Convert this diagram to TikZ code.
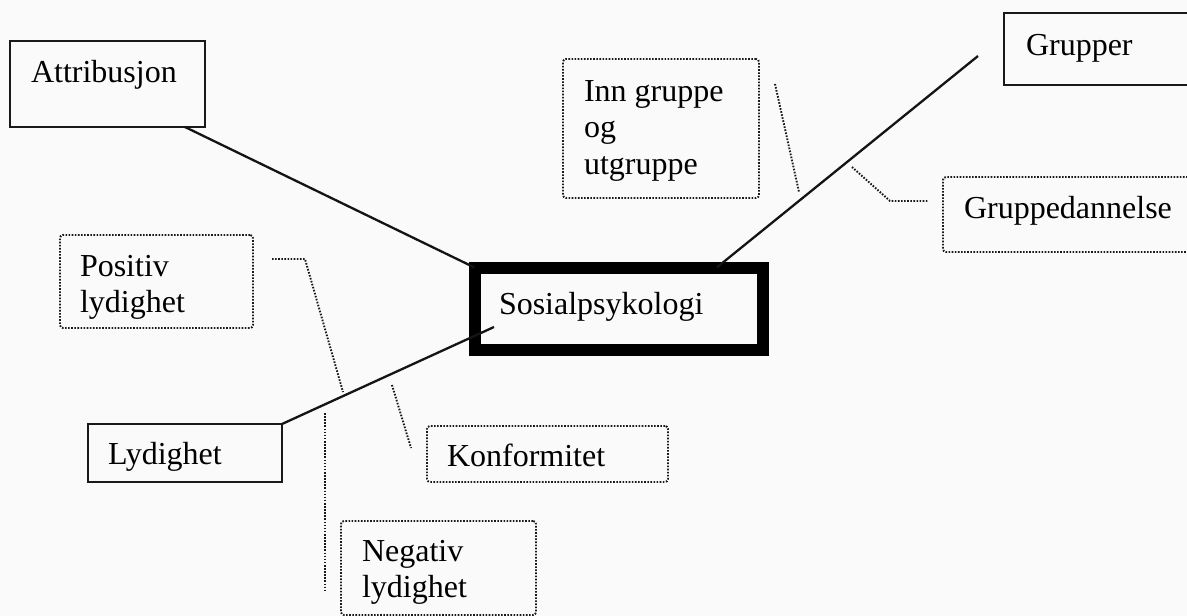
\documentclass[tikz,border=0pt]{standalone}
\usepackage{fontspec}
\setmainfont{Liberation Serif}
\begin{document}
\begin{tikzpicture}[x=1pt,y=-1pt,
  every node/.style={outer sep=0pt},
  solidbox/.style={draw=black!90, line width=2.2pt, inner sep=0pt, anchor=north west},
  centerbox/.style={draw=black, line width=12pt, inner sep=0pt, anchor=north west},
  dotbox/.style={draw=black!90, line width=1.9pt, dash pattern=on 1.6pt off 1.5pt,
                 rounded corners=3pt, inner sep=0pt, anchor=north west},
  txt/.style={anchor=north west, inner sep=0pt, align=left,
              font=\fontsize{32}{36.5}\selectfont, text=black},
  link/.style={draw=black!92, line width=2.3pt},
  dotlink/.style={draw=black!90, line width=1.9pt, dash pattern=on 1.6pt off 1.5pt}]

% page background
\fill[black!2] (0,0) rectangle (1187,616);
\useasboundingbox (0,0) rectangle (1187,616);

% boxes
\node[solidbox, minimum width=195pt, minimum height=86pt]  (attr)   at (10,41)    {};
\node[solidbox, minimum width=195pt, minimum height=72pt]  (grupper) at (1004,13) {};
\node[centerbox, minimum width=288.5pt, minimum height=82pt] (center) at (474.5,267.5) {};
\node[solidbox, minimum width=194pt, minimum height=58pt]  (lyd)    at (88,424)   {};
\node[dotbox, minimum width=196pt, minimum height=139pt]   (inn)    at (563,59)   {};
\node[dotbox, minimum width=260pt, minimum height=75pt]    (gd)     at (943,177)  {};
\node[dotbox, minimum width=193pt, minimum height=93pt]    (pos)    at (60,235)   {};
\node[dotbox, minimum width=241pt, minimum height=56pt]    (konf)   at (427,426)  {};
\node[dotbox, minimum width=195pt, minimum height=94pt]    (neg)    at (341,521)  {};

% labels (top = baseline - strut height)
\node[txt] (attrtext)    at (31,56.45)    {\strut Attribusjon};
\node[txt] (gruppertext) at (1026,29.45)  {\strut Grupper};
\node[txt] (centertext)  at (499,288.45)  {\strut Sosialpsykologi};
\node[txt] (lydtext)     at (108,438.45)  {\strut Lydighet};
\node[txt] (inntext)     at (584,75.45)   {\strut Inn gruppe\\og\\utgruppe};
\node[txt] (gdtext)      at (964,192.45)  {\strut Gruppedannelse};
\node[txt] (postext)     at (80,250.45)   {\strut Positiv\\lydighet};
\node[txt] (konftext)    at (447,440.45)  {\strut Konformitet};
\node[txt] (negtext)     at (362,535.45)  {\strut Negativ\\lydighet};

% solid connectors to the central topic
\draw[link] ([xshift=175pt]attr.south west) -- (center.north west);
\draw[link] ([xshift=98pt]center.north) -- ([xshift=-26pt,yshift=-7pt]grupper.west);
\draw[link] (lyd.north east) -- ([xshift=19.5pt,yshift=22.5pt]center.south west);

% dotted leader lines
\draw[dotlink] ([xshift=16pt,yshift=-25pt]inn.north east) -- ([xshift=40pt,yshift=6pt]inn.south east);
\draw[dotlink] ([xshift=-91pt,yshift=47.5pt]gd.west) -- ([xshift=-53pt,yshift=13.5pt]gd.west)
               -- ([xshift=-15pt,yshift=13.5pt]gd.west);
\draw[dotlink] ([xshift=19pt,yshift=-24pt]pos.north east) -- ([xshift=52pt,yshift=-24pt]pos.north east)
               -- ([xshift=90pt,yshift=-157pt]pos.north east);
\draw[dotlink] ([xshift=-16pt,yshift=108pt]neg.north west) -- ([xshift=-16pt,yshift=-69pt]neg.north west);
\draw[dotlink] ([xshift=-35pt,yshift=41pt]konf.north west) -- ([xshift=-16pt,yshift=-22pt]konf.north west);
\end{tikzpicture}
\end{document}
